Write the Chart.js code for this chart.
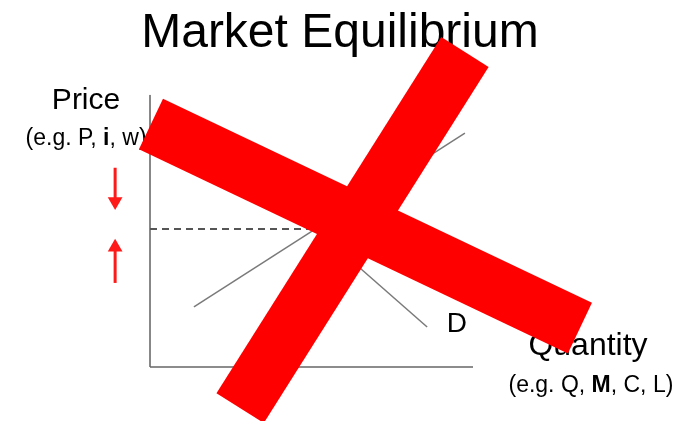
<!DOCTYPE html>
<html lang="en">
<head>
  <meta charset="UTF-8">
  <title>Market Equilibrium</title>
  <script src="https://cdn.jsdelivr.net/npm/chart.js"></script>
  <style>
    body { margin: 0; background: #fff; }
    #wrap { width: 692px; height: 421px; }
  </style>
</head>
<body>
  <div id="wrap"><canvas id="marketChart" width="692" height="421"></canvas></div>

  <script>
    // Axis box (quantity / price units)
    const axisQ = [0, 10];
    const axisP = [0, 10];

    // Visible window around the axis box
    const viewQ = [-4.644, 16.78];
    const viewP = [-1.985, 13.49];

    // Supply and demand curves
    const supplyQ = [1.36, 9.75];
    const supplyP = [2.21, 8.6];
    const demandQ = [1.5, 8.58];
    const demandP = [8.85, 1.47];

    // Equilibrium price (dashed guide)
    const eqQ = 5.1;
    const eqP = 5.07;

    // Red arrows left of the price axis
    const arrowQ = -1.08;
    const downArrowP = [7.32, 6.08];
    const upArrowP = [3.09, 4.4];

    // The big red cross
    const crossAQ = [0.03, 13.31];
    const crossAP = [8.93, 1.43];
    const crossBQ = [9.75, 2.79];
    const crossBP = [11.58, -1.51];

    const pts = (qs, ps) => qs.map((q, i) => ({ x: q, y: ps[i] }));

    // text labels: [text runs, q, p, font size]
    const labels = [
      { runs: [["Market Equilibrium", false]], q: 5.88, p: 11.76, size: 48 },
      { runs: [["Price", false]], q: -1.98, p: 9.49, size: 30 },
      { runs: [["(e.g. P, ", false], ["i", true], [", w)", false]], q: -1.98, p: 8.16, size: 23 },
      { runs: [["S", false]], q: 9.38, p: 9.34, size: 28 },
      { runs: [["D", false]], q: 9.5, p: 1.29, size: 28 },
      { runs: [["Quantity", false]], q: 13.56, p: 0.44, size: 32 },
      { runs: [["(e.g. Q, ", false], ["M", true], [", C, L)", false]], q: 13.65, p: -0.92, size: 23 }
    ];

    const textPlugin = {
      id: "textLabels",
      beforeDatasetsDraw(chart) {
        const ctx = chart.ctx;
        const xs = chart.scales.x, ys = chart.scales.y;
        ctx.save();
        ctx.fillStyle = "#000";
        ctx.textBaseline = "alphabetic";
        ctx.textAlign = "left";
        labels.forEach(l => {
          const font = b => (b ? "bold " : "") + l.size + "px 'Liberation Sans', Arial, sans-serif";
          let total = 0;
          l.runs.forEach(r => { ctx.font = font(r[1]); total += ctx.measureText(r[0]).width; });
          let x = xs.getPixelForValue(l.q) - total / 2;
          const y = ys.getPixelForValue(l.p);
          l.runs.forEach(r => {
            ctx.font = font(r[1]);
            ctx.fillText(r[0], x, y);
            x += ctx.measureText(r[0]).width;
          });
        });
        ctx.restore();
      }
    };

    const line = (data, color, width, extra) => Object.assign({
      data: data,
      showLine: true,
      borderColor: color,
      backgroundColor: color,
      borderWidth: width,
      pointRadius: 0,
      clip: false,
      fill: false
    }, extra || {});

    new Chart(document.getElementById("marketChart"), {
      type: "scatter",
      data: {
        datasets: [
          line(pts(crossAQ, crossAP), "#ff0000", 56),
          line(pts(crossBQ, crossBP), "#ff0000", 56),
          line(pts([arrowQ, arrowQ], downArrowP), "#ff1a1a", 3, {
            pointRadius: [0, 8.5], pointStyle: "triangle", pointRotation: [0, 180],
            pointBorderWidth: 0, pointBackgroundColor: "#ff1a1a"
          }),
          line(pts([arrowQ, arrowQ], upArrowP), "#ff1a1a", 3, {
            pointRadius: [0, 8.5], pointStyle: "triangle", pointRotation: [0, 0],
            pointBorderWidth: 0, pointBackgroundColor: "#ff1a1a"
          }),
          line(pts(supplyQ, supplyP), "#7a7a7a", 1.5),
          line(pts(demandQ, demandP), "#7a7a7a", 1.5),
          line(pts([axisQ[0], eqQ], [eqP, eqP]), "#555555", 2, { borderDash: [7, 5] }),
          line(pts([axisQ[0], axisQ[1]], [axisP[0], axisP[0]]), "#666666", 1.5),
          line(pts([axisQ[0], axisQ[0]], [axisP[0], axisP[1]]), "#111111", 1)
        ]
      },
      options: {
        responsive: false,
        animation: false,
        events: [],
        layout: { padding: 0, autoPadding: false },
        scales: {
          x: { type: "linear", min: viewQ[0], max: viewQ[1], display: false },
          y: { type: "linear", min: viewP[0], max: viewP[1], display: false }
        },
        plugins: {
          legend: { display: false },
          title: { display: false },
          tooltip: { enabled: false }
        }
      },
      plugins: [textPlugin]
    });
  </script>
</body>
</html>
